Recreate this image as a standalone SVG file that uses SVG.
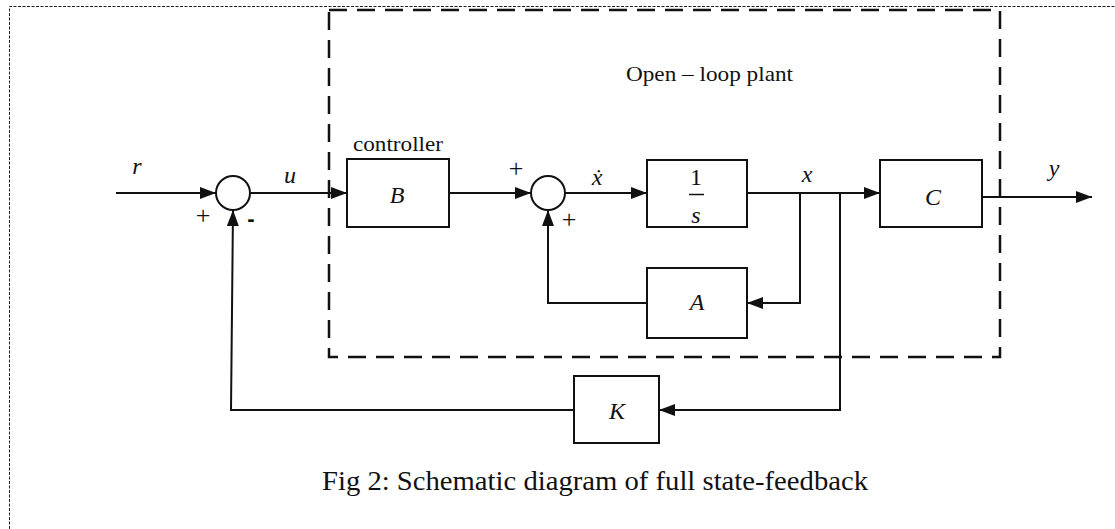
<svg xmlns="http://www.w3.org/2000/svg" width="1115" height="529" viewBox="0 0 1115 529">
<style>
.blk{fill:#fff;stroke:#111;stroke-width:2}
.ln{fill:none;stroke:#111;stroke-width:2}
.t{font-family:"Liberation Serif",serif;fill:#111}
.m{font-family:"Liberation Serif","DejaVu Serif",serif;font-style:italic;fill:#111}
.pm{font-family:"Liberation Serif",serif;fill:#111;font-size:26px;text-anchor:middle}
</style>
<defs>
<marker id="ah" viewBox="0 0 16 12" refX="16" refY="6" markerWidth="16" markerHeight="12" markerUnits="userSpaceOnUse" orient="auto">
<path d="M0,0 L16,6 L0,12 Z" fill="#111"/>
</marker>
</defs>
<rect width="1115" height="529" fill="#fff"/>
<path d="M9.5,529 V6.5 H1115" fill="none" stroke="#222" stroke-width="1" stroke-dasharray="3,1.5"/>
<rect x="329" y="10" width="671" height="347" fill="none" stroke="#111" stroke-width="2.5" stroke-dasharray="18,10"/>
<text class="t" x="626" y="81" font-size="22" textLength="167" lengthAdjust="spacingAndGlyphs">Open – loop plant</text>

<g id="connectors">
<path class="ln" d="M116,193 H216" marker-end="url(#ah)"/>
<path class="ln" d="M250,193 H347" marker-end="url(#ah)"/>
<path class="ln" d="M449,193 H531" marker-end="url(#ah)"/>
<path class="ln" d="M565,193 H647" marker-end="url(#ah)"/>
<path class="ln" d="M747,193 H880" marker-end="url(#ah)"/>
<path class="ln" d="M982,197 H1092" marker-end="url(#ah)"/>
<path class="ln" d="M800,193 V303 H747" marker-end="url(#ah)"/>
<path class="ln" d="M647,303 H548 V210" marker-end="url(#ah)"/>
<path class="ln" d="M840,193 V410 H659" marker-end="url(#ah)"/>
<path class="ln" d="M574,410 H231 L233,210" marker-end="url(#ah)"/>
</g>

<g id="sum1">
<circle class="blk" cx="233" cy="193" r="17"/>
<text class="pm" x="203" y="224">+</text>
<text x="251" y="226" font-family="Liberation Sans,sans-serif" font-weight="bold" font-size="22" text-anchor="middle" fill="#111">-</text>
</g>
<g id="nodeB">
<rect class="blk" x="347" y="159" width="102" height="68"/>
<text class="m" x="397" y="203" font-size="24" text-anchor="middle">B</text>
<text class="t" x="353" y="151" font-size="22" textLength="90" lengthAdjust="spacingAndGlyphs">controller</text>
</g>
<g id="sum2">
<circle class="blk" cx="548" cy="193" r="17"/>
<text class="pm" x="516" y="177">+</text>
<text class="pm" x="569" y="228">+</text>
</g>
<g id="nodeInt">
<rect class="blk" x="647" y="160" width="100" height="67"/>
<text class="t" x="696" y="185" font-size="24" text-anchor="middle">1</text>
<line x1="689" y1="194.5" x2="704" y2="194.5" stroke="#111" stroke-width="1.5"/>
<text class="m" x="696" y="223" font-size="24" text-anchor="middle">s</text>
</g>
<g id="nodeA">
<rect class="blk" x="647" y="268" width="100" height="70"/>
<text class="m" x="697" y="310" font-size="24" text-anchor="middle">A</text>
</g>
<g id="nodeC">
<rect class="blk" x="880" y="160" width="102" height="67"/>
<text class="m" x="933" y="205" font-size="24" text-anchor="middle">C</text>
</g>
<g id="nodeK">
<rect class="blk" x="574" y="376" width="85" height="67"/>
<text class="m" x="617" y="419" font-size="24" text-anchor="middle">K</text>
</g>

<g id="labels">
<text class="m" x="137" y="174" font-size="24" text-anchor="middle">r</text>
<text class="m" x="290" y="183" font-size="24" text-anchor="middle">u</text>
<text class="m" x="597" y="185" font-size="24" text-anchor="middle">ẋ</text>
<text class="m" x="807" y="182" font-size="24" text-anchor="middle">x</text>
<text class="m" x="1054" y="176" font-size="24" text-anchor="middle">y</text>
</g>
<text class="t" x="322" y="490" font-size="27" textLength="546" lengthAdjust="spacingAndGlyphs">Fig 2: Schematic diagram of full state-feedback</text>
</svg>
